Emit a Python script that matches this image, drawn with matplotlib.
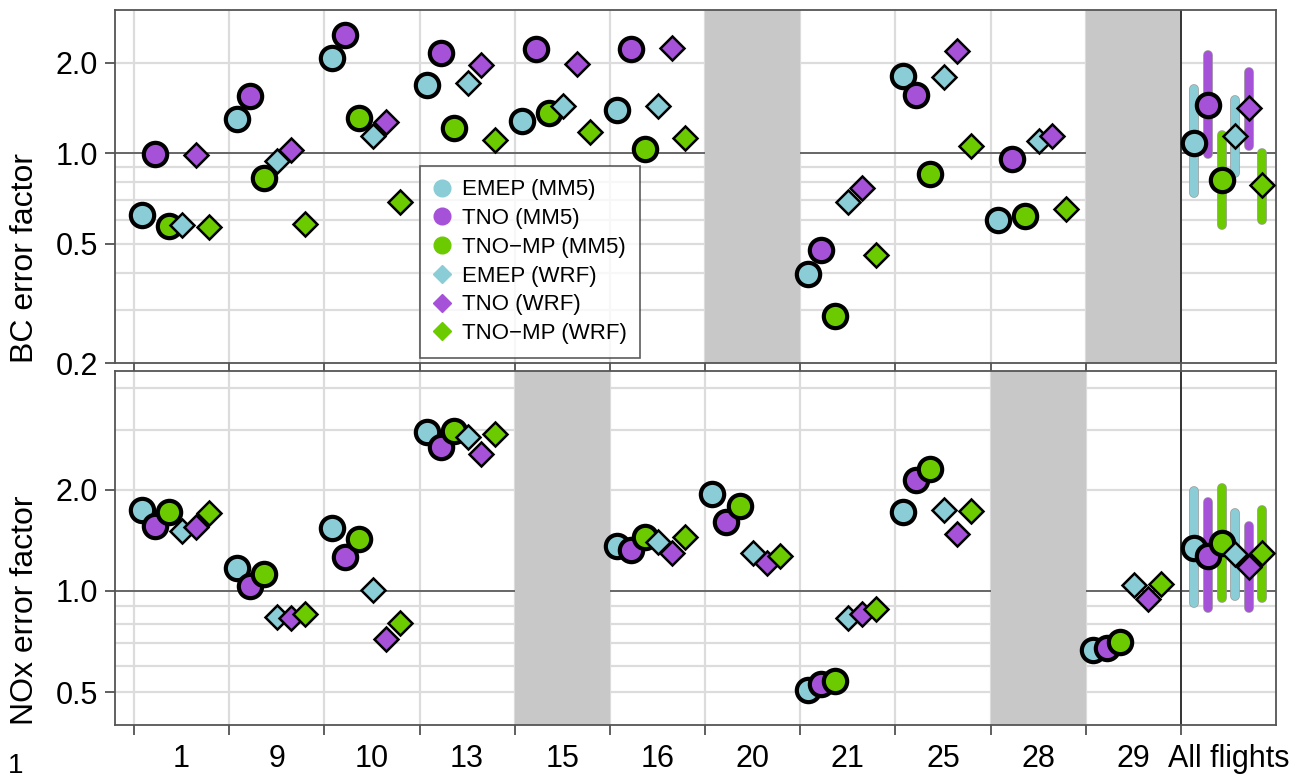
import numpy as np
import matplotlib
matplotlib.use('Agg')
import matplotlib.pyplot as plt
import matplotlib.patheffects as pe
from matplotlib.lines import Line2D

plt.rcParams['font.family'] = ['Liberation Sans', 'DejaVu Sans']

nan = np.nan

flights = ['1', '9', '10', '13', '15', '16', '20', '21', '25', '28', '29', 'All flights']
series = ['EMEP (MM5)', 'TNO (MM5)', 'TNO\u2212MP (MM5)', 'EMEP (WRF)', 'TNO (WRF)', 'TNO\u2212MP (WRF)']
colors = ['#8acdd6', '#a652d8', '#6ccb00', '#8acdd6', '#a652d8', '#6ccb00']
markers = ['o', 'o', 'o', 'D', 'D', 'D']

# BC error factor per series (flights in the order above, last = all flights)
bc_emep_mm5 = [0.622, 1.30, 2.08, 1.69, 1.285, 1.39, nan, 0.397, 1.814, 0.601, nan, 1.085]
bc_tno_mm5 = [0.995, 1.555, 2.47, 2.15, 2.22, 2.23, nan, 0.475, 1.566, 0.955, nan, 1.45]
bc_tnomp_mm5 = [0.571, 0.825, 1.31, 1.21, 1.36, 1.03, nan, 0.286, 0.853, 0.617, nan, 0.814]
bc_emep_wrf = [0.575, 0.945, 1.137, 1.714, 1.44, 1.44, nan, 0.689, 1.80, 1.094, nan, 1.137]
bc_tno_wrf = [0.99, 1.026, 1.275, 1.97, 1.99, 2.24, nan, 0.767, 2.19, 1.143, nan, 1.41]
bc_tnomp_wrf = [0.568, 0.58, 0.689, 1.108, 1.18, 1.12, nan, 0.457, 1.058, 0.65, nan, 0.783]
# spread over all flights
bc_all_lo = [0.739, 0.995, 0.576, 0.861, 1.058, 0.601]
bc_all_hi = [1.64, 2.13, 1.15, 1.50, 1.86, 1.0]

# NOx error factor
nox_emep_mm5 = [1.735, 1.174, 1.54, 2.97, nan, 1.363, 1.946, 0.509, 1.714, nan, 0.67, 1.341]
nox_tno_mm5 = [1.557, 1.035, 1.258, 2.67, nan, 1.323, 1.60, 0.528, 2.14, nan, 0.677, 1.272]
nox_tnomp_mm5 = [1.714, 1.122, 1.427, 2.99, nan, 1.443, 1.782, 0.541, 2.31, nan, 0.706, 1.385]
nox_emep_wrf = [1.504, 0.836, 1.01, 2.86, nan, 1.394, 1.293, 0.829, 1.743, nan, 1.042, 1.287]
nox_tno_wrf = [1.546, 0.829, 0.722, 2.56, nan, 1.30, 1.215, 0.852, 1.477, nan, 0.944, 1.18]
nox_tnomp_wrf = [1.70, 0.856, 0.804, 2.93, nan, 1.45, 1.272, 0.882, 1.726, nan, 1.047, 1.293]
nox_all_lo = [0.923, 0.891, 0.951, 0.966, 0.888, 0.951]
nox_all_hi = [1.98, 1.836, 2.02, 1.70, 1.564, 1.735]

bc_missing = ['20', '29']
nox_missing = ['15', '28']

bc = [bc_emep_mm5, bc_tno_mm5, bc_tnomp_mm5, bc_emep_wrf, bc_tno_wrf, bc_tnomp_wrf]
nox = [nox_emep_mm5, nox_tno_mm5, nox_tnomp_mm5, nox_emep_wrf, nox_tno_wrf, nox_tnomp_wrf]

W, H = 1299, 780
fig = plt.figure(figsize=(W / 100, H / 100), dpi=100)
ax1 = fig.add_axes([115 / W, 1 - 363 / H, 1161 / W, 353 / H])
ax2 = fig.add_axes([115 / W, 1 - 725 / H, 1161 / W, 354 / H])

n = len(flights)


def draw_panel(ax, data, lo, hi, missing, ylim, grid_vals, yticks):
    ax.set_yscale('log')
    ax.set_xlim(-0.2, n)
    ax.set_ylim(*ylim)
    for g in grid_vals:
        ax.axhline(g, color='#dcdcdc', lw=1.6, zorder=0.5)
    ax.axhline(1.0, color='#666666', lw=1.4, zorder=0.6)
    for b in range(n - 1):
        ax.axvline(b, color='#dcdcdc', lw=1.6, zorder=0.5)
    for f in missing:
        i = flights.index(f)
        ax.axvspan(i, i + 1, color='#c8c8c8', lw=0, zorder=1)
    ax.axvline(n - 1, color='#333333', lw=1.4, zorder=1.5)

    for j in range(6):
        vals = np.array(data[j], dtype=float)
        xs = np.arange(n) + (j + 0.55) / 7
        xs[-1] = n - 1 + (j + 1) / 7
        # spread bar for all flights
        ax.plot([xs[-1], xs[-1]], [lo[j], hi[j]], color=colors[j], lw=6,
                solid_capstyle='round', zorder=2 + j * 0.1,
                path_effects=[pe.Stroke(linewidth=7, foreground='#9a9a9a'), pe.Normal()])
        if markers[j] == 'o':
            ax.plot(xs, vals, 'o', ms=16.8, mfc=colors[j], mec='black', mew=3.0,
                    zorder=3 + j * 0.1, ls='none')
        else:
            ax.plot(xs, vals, 'D', ms=11.8, mfc=colors[j], mec='black', mew=1.8,
                    zorder=3 + j * 0.1, ls='none')

    ax.set_yticks(yticks)
    ax.set_yticklabels(['%.1f' % t for t in yticks])
    ax.yaxis.set_minor_locator(matplotlib.ticker.NullLocator())
    ax.tick_params(axis='y', which='major', length=7, width=1.2, pad=5,
                   labelsize=22, color='#444444')
    ax.set_xticks(range(n))
    ax.set_xticklabels([])
    ax.tick_params(axis='x', which='major', length=7, width=1.2, color='#444444')
    for s in ax.spines.values():
        s.set_color('#555555')
        s.set_linewidth(1.3)


draw_panel(ax1, bc, bc_all_lo, bc_all_hi, bc_missing, (0.2, 3.0),
           [0.3, 0.4, 0.5, 0.6, 0.7, 0.8, 0.9, 2.0], [0.2, 0.5, 1.0, 2.0])
draw_panel(ax2, nox, nox_all_lo, nox_all_hi, nox_missing, (0.4, 4.5),
           [0.5, 0.6, 0.7, 0.8, 0.9, 2.0, 3.0, 4.0], [0.5, 1.0, 2.0])

ax2.set_xticks(np.arange(n) + 0.5, minor=True)
ax2.set_xticklabels(flights, minor=True)
ax2.tick_params(axis='x', which='minor', length=0, pad=14, labelsize=22)

fig.text(25 / W, 1 - 363 / H, 'BC error factor', rotation=90, ha='center', va='bottom', fontsize=23)
fig.text(25 / W, 1 - 725 / H, 'NOx error factor', rotation=90, ha='center', va='bottom', fontsize=23)
fig.text(8 / W, 1 / H, '1', ha='left', va='bottom', fontsize=20)

# legend markers have no outline
handles = [Line2D([], [], marker=markers[j], ls='none', color=colors[j],
                  ms=12 if markers[j] == 'o' else 9) for j in range(6)]
leg = ax1.legend(handles, series, loc='upper left',
                 bbox_to_anchor=(305 / 1161, (363 - 166) / 353),
                 borderaxespad=0, fontsize=16, frameon=True, fancybox=False,
                 handlelength=0.8, handletextpad=0.5, labelspacing=0.35, borderpad=0.6)
leg.get_frame().set_edgecolor('#333333')
leg.get_frame().set_linewidth(1.2)
leg.set_zorder(10)

fig.savefig('out.png', dpi=100)
